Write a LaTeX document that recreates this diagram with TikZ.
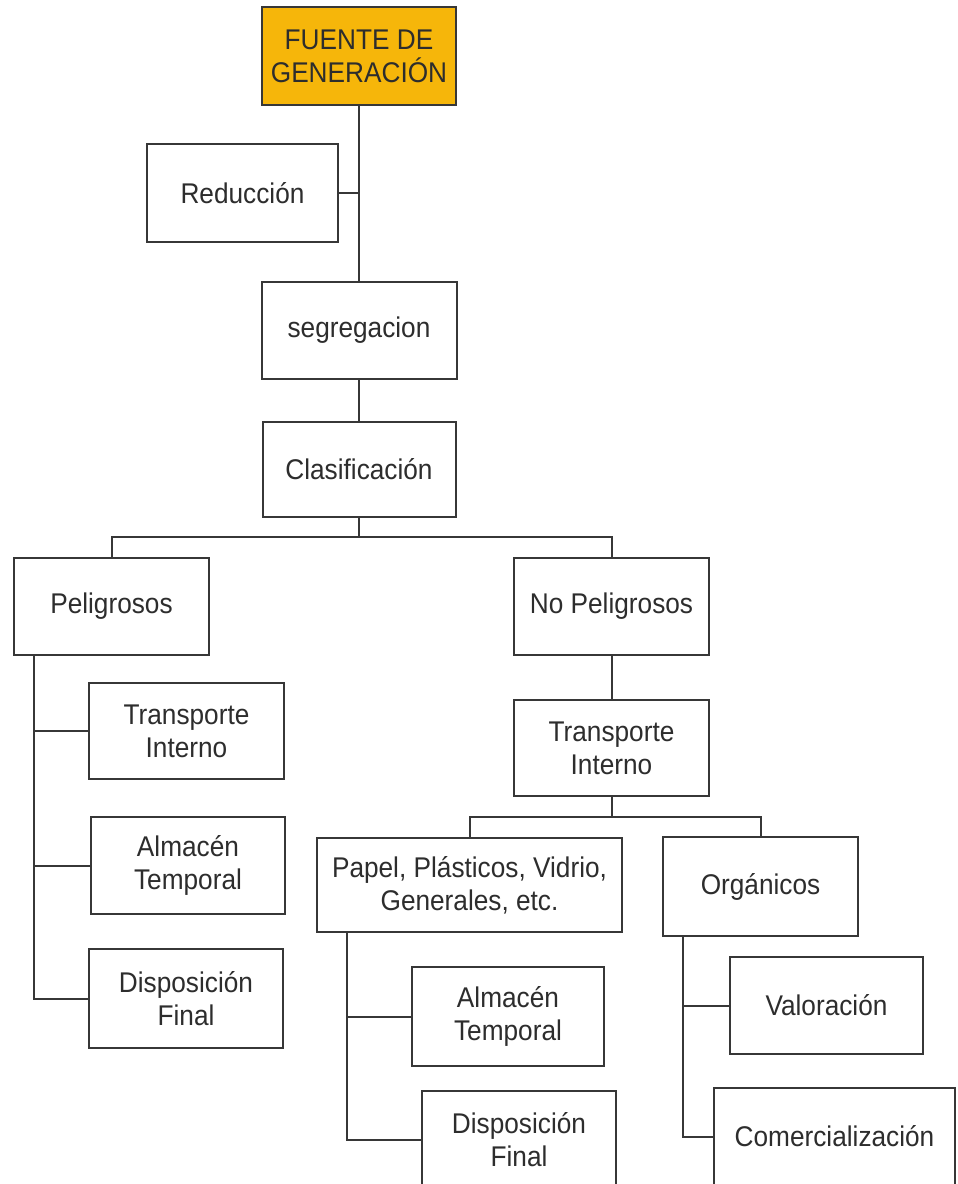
\documentclass[tikz,border=0pt]{standalone}
\usepackage{fontspec}
\setmainfont{Liberation Sans}[FakeStretch=0.92]
\definecolor{linec}{RGB}{55,55,55}
\definecolor{txtc}{RGB}{45,45,45}
\definecolor{orangef}{RGB}{246,182,10}
\tikzset{
  box/.style={draw=linec, line width=2pt, fill=white, inner sep=0pt, align=center,
    text=txtc, font=\fontsize{28.5}{33}\selectfont},
  conn/.style={draw=linec, line width=2pt},
}
\begin{document}
\begin{tikzpicture}[x=1pt,y=-1pt]
\useasboundingbox (0,0) rectangle (958,1184);
\clip (0,0) rectangle (958,1184);
\fill[white] (0,0) rectangle (958,1184);

% nodes
\node[box, fill=orangef, minimum width=194pt, minimum height=98pt] (fuente) at (359,56) {FUENTE DE\\GENERACIÓN};
\node[box, minimum width=191pt, minimum height=98pt] (reduccion) at (242.5,193) {Reducción};
\node[box, minimum width=195pt, minimum height=97pt] (segreg) at (359,330.5) {segregacion};
\node[box, minimum width=193pt, minimum height=95pt] (clasif) at (359,469.5) {Clasificación};
\node[box, minimum width=195pt, minimum height=97pt] (pelig) at (111.5,606.5) {Peligrosos};
\node[box, minimum width=195pt, minimum height=97pt] (nopel) at (611.5,606.5) {No Peligrosos};
\node[box, minimum width=195pt, minimum height=96pt] (transL) at (186.5,731) {Transporte\\Interno};
\node[box, minimum width=194pt, minimum height=97pt] (almL) at (188,865.5) {Almacén\\Temporal};
\node[box, minimum width=194pt, minimum height=99pt] (dispL) at (186,998.5) {Disposición\\Final};
\node[box, minimum width=195pt, minimum height=96pt] (transR) at (611.5,748) {Transporte\\Interno};
\node[box, minimum width=305pt, minimum height=94pt] (papel) at (469.5,885) {Papel, Plásticos, Vidrio,\\Generales, etc.};
\node[box, minimum width=195pt, minimum height=99pt] (organ) at (760.5,886.5) {Orgánicos};
\node[box, minimum width=192pt, minimum height=99pt] (almM) at (508,1016.5) {Almacén\\Temporal};
\node[box, minimum width=194pt, minimum height=97pt] (dispM) at (519,1139.5) {Disposición\\Final};
\node[box, minimum width=193pt, minimum height=97pt] (valor) at (826.5,1005.5) {Valoración};
\node[box, minimum width=241pt, minimum height=97pt] (comer) at (834.5,1136.5) {Comercialización};

% junction coordinates
\coordinate (b1) at (359,537);
\coordinate (b2) at (611.5,817);
\coordinate (pt) at (34,655);
\coordinate (mt) at (347,932);
\coordinate (ot) at (683,936);

% connectors
\draw[conn] (fuente.south) -- (segreg.north);
\draw[conn] (reduccion.east) -- (reduccion.east -| fuente.south);
\draw[conn] (segreg.south) -- (clasif.north);
\draw[conn] (clasif.south) -- (b1);
\draw[conn] (pelig.north) |- (b1) -| (nopel.north);
\draw[conn] (pt) |- (dispL.west);
\draw[conn] (pt |- transL.west) -- (transL.west);
\draw[conn] (pt |- almL.west) -- (almL.west);
\draw[conn] (nopel.south) -- (transR.north);
\draw[conn] (transR.south) -- (b2);
\draw[conn] (papel.north) |- (b2) -| (organ.north);
\draw[conn] (mt) |- (dispM.west);
\draw[conn] (mt |- almM.west) -- (almM.west);
\draw[conn] (ot) |- (comer.west);
\draw[conn] (ot |- valor.west) -- (valor.west);
\end{tikzpicture}
\end{document}
